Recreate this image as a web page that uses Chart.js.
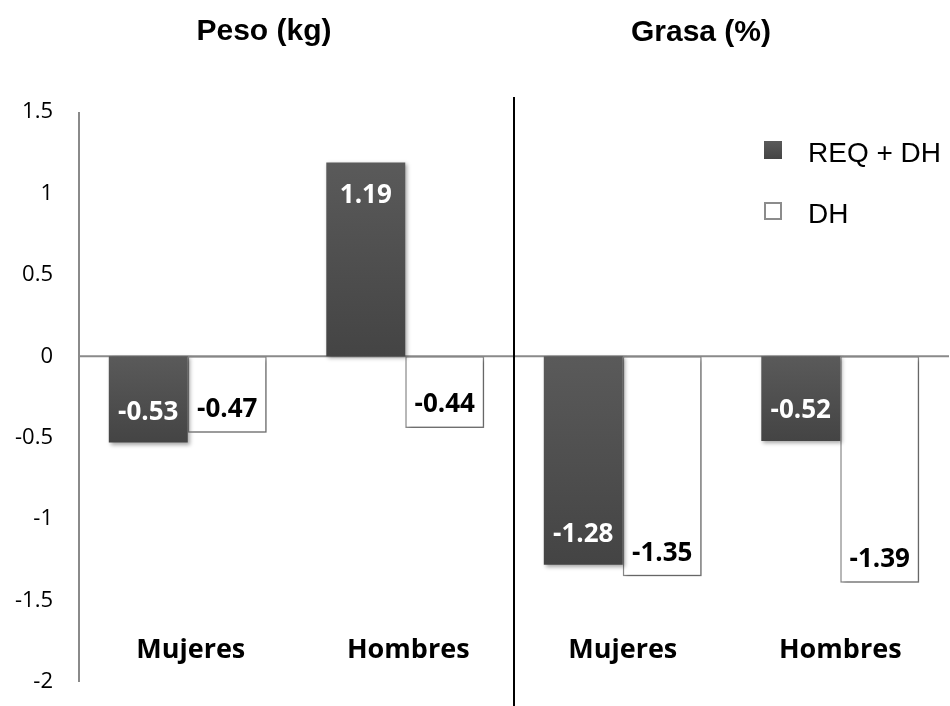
<!DOCTYPE html>
<html>
<head>
<meta charset="utf-8">
<script src="https://cdn.jsdelivr.net/npm/chart.js@4.4.1/dist/chart.umd.min.js"></script>
<style>
  html, body { margin: 0; padding: 0; background: #ffffff; }
  #wrap { width: 950px; height: 706px; position: relative; }
</style>
</head>
<body>
<div id="wrap"><canvas id="c" width="950" height="706"></canvas></div>
<script>
// Categories (two groups: weight and body fat)
const categories = ['Mujeres', 'Hombres', 'Mujeres', 'Hombres'];
const groupTitles = ['Peso (kg)', 'Grasa (%)'];
const seriesNames = ['REQ + DH', 'DH'];
const reqDh = [-0.53, 1.19, -1.28, -0.52];
const dh = [-0.47, -0.44, -1.35, -1.39];
const yTicks = [-2, -1.5, -1, -0.5, 0, 0.5, 1, 1.5];

const LABEL_FONT = '"Open Sans", "Liberation Sans", sans-serif';
const ARIAL = '"Liberation Sans", Arial, sans-serif';

function darkGradient(ctx) {
  const chart = ctx.chart;
  const ys = chart.scales.y;
  if (!ys || ctx.raw == null) return '#4f4f4f';
  const p = ys.getPixelForValue(ctx.raw);
  const z = ys.getPixelForValue(0);
  const top = Math.min(p, z), bot = Math.max(p, z);
  if (!isFinite(top) || bot - top < 1) return '#4f4f4f';
  const g = chart.ctx.createLinearGradient(0, top, 0, bot);
  g.addColorStop(0, '#5a5a5a');
  g.addColorStop(1, '#444444');
  return g;
}

const decor = {
  id: 'decor',
  beforeDatasetsDraw(chart) {
    const { ctx, chartArea: a, scales: { y } } = chart;
    ctx.save();
    // vertical axis
    ctx.strokeStyle = '#8a8a8a';
    ctx.lineWidth = 2;
    ctx.beginPath();
    ctx.moveTo(a.left, a.top);
    ctx.lineTo(a.left, a.bottom);
    ctx.stroke();
    // zero line
    const z = y.getPixelForValue(0);
    ctx.beginPath();
    ctx.moveTo(a.left, z);
    ctx.lineTo(a.right, z);
    ctx.stroke();
    ctx.restore();
    // soft shadow under bars
    ctx.save();
    ctx.shadowColor = 'rgba(0,0,0,0.35)';
    ctx.shadowBlur = 4;
    ctx.shadowOffsetX = 2;
    ctx.shadowOffsetY = 2;
  },
  afterDatasetsDraw(chart) {
    const { ctx, chartArea: a, scales: { x, y } } = chart;
    ctx.restore();

    // separator between the two groups
    const sx = Math.round((x.getPixelForValue(1) + x.getPixelForValue(2)) / 2);
    ctx.save();
    ctx.strokeStyle = '#000000';
    ctx.lineWidth = 2;
    ctx.beginPath();
    ctx.moveTo(sx, a.top - 15);
    ctx.lineTo(sx, chart.height);
    ctx.stroke();
    ctx.restore();

    // value labels
    ctx.save();
    ctx.font = 'bold 26px ' + LABEL_FONT;
    ctx.textAlign = 'center';
    ctx.textBaseline = 'middle';
    chart.data.datasets.forEach((ds, di) => {
      const meta = chart.getDatasetMeta(di);
      meta.data.forEach((el, i) => {
        const v = ds.data[i];
        const txt = v.toFixed(2);
        let ty;
        if (di === 0) {
          ctx.fillStyle = '#ffffff';
          ty = v < 0 ? el.y - 30 : el.y + 33;
        } else {
          ctx.fillStyle = '#000000';
          ty = v < 0 ? el.y - 23 : el.y + 23;
        }
        ctx.fillText(txt, el.x, ty);
      });
    });
    ctx.restore();

    // category labels
    ctx.save();
    ctx.font = 'bold 27px ' + LABEL_FONT;
    ctx.fillStyle = '#000000';
    ctx.textAlign = 'center';
    ctx.textBaseline = 'alphabetic';
    const cy = y.getPixelForValue(-1.85);
    categories.forEach((c, i) => ctx.fillText(c, x.getPixelForValue(i) + (i < 2 ? 3 : 0), cy));
    ctx.restore();

    // group titles
    ctx.save();
    ctx.font = 'bold 30px ' + ARIAL;
    ctx.fillStyle = '#000000';
    ctx.textAlign = 'center';
    ctx.textBaseline = 'alphabetic';
    ctx.fillText(groupTitles[0], 264, 40);
    ctx.fillText(groupTitles[1], 701, 41);
    ctx.restore();

    // legend
    ctx.save();
    ctx.font = '28px ' + ARIAL;
    ctx.textAlign = 'left';
    ctx.textBaseline = 'alphabetic';
    const rows = [150, 211];
    seriesNames.forEach((name, i) => {
      const cyR = rows[i];
      if (i === 0) {
        const g = ctx.createLinearGradient(0, cyR - 9, 0, cyR + 9);
        g.addColorStop(0, '#5a5a5a');
        g.addColorStop(1, '#444444');
        ctx.fillStyle = g;
        ctx.fillRect(764, cyR - 9, 18, 18);
      } else {
        ctx.fillStyle = '#ffffff';
        ctx.fillRect(765, cyR - 8, 16, 16);
        ctx.strokeStyle = '#8c8c8c';
        ctx.lineWidth = 2;
        ctx.strokeRect(765, cyR - 8, 16, 16);
      }
      ctx.fillStyle = '#000000';
      ctx.fillText(name, 808, cyR + 12);
    });
    ctx.restore();
  }
};

new Chart(document.getElementById('c'), {
  type: 'bar',
  data: {
    labels: categories,
    datasets: [
      {
        label: seriesNames[0],
        data: reqDh,
        backgroundColor: darkGradient,
        borderWidth: 0
      },
      {
        label: seriesNames[1],
        data: dh,
        backgroundColor: '#ffffff',
        borderColor: '#8c8c8c',
        borderWidth: 1.5,
        borderSkipped: false
      }
    ]
  },
  options: {
    responsive: false,
    animation: false,
    devicePixelRatio: 1,
    layout: { padding: { top: 112, bottom: 24, left: 0, right: 1 } },
    datasets: { bar: { barPercentage: 1, categoryPercentage: 0.726 } },
    plugins: { legend: { display: false }, tooltip: { enabled: false }, title: { display: false } },
    scales: {
      x: { display: false, offset: true },
      y: {
        min: -2,
        max: 1.5,
        afterFit(s) { s.width = 79; },
        afterBuildTicks(s) { s.ticks = yTicks.map(v => ({ value: v })); },
        border: { display: false },
        grid: { display: false, drawTicks: true, tickLength: 24 },
        ticks: {
          padding: 2,
          color: '#000000',
          font: { family: LABEL_FONT, size: 22 },
          callback: v => String(v)
        }
      }
    }
  },
  plugins: [decor]
});
</script>
</body>
</html>
